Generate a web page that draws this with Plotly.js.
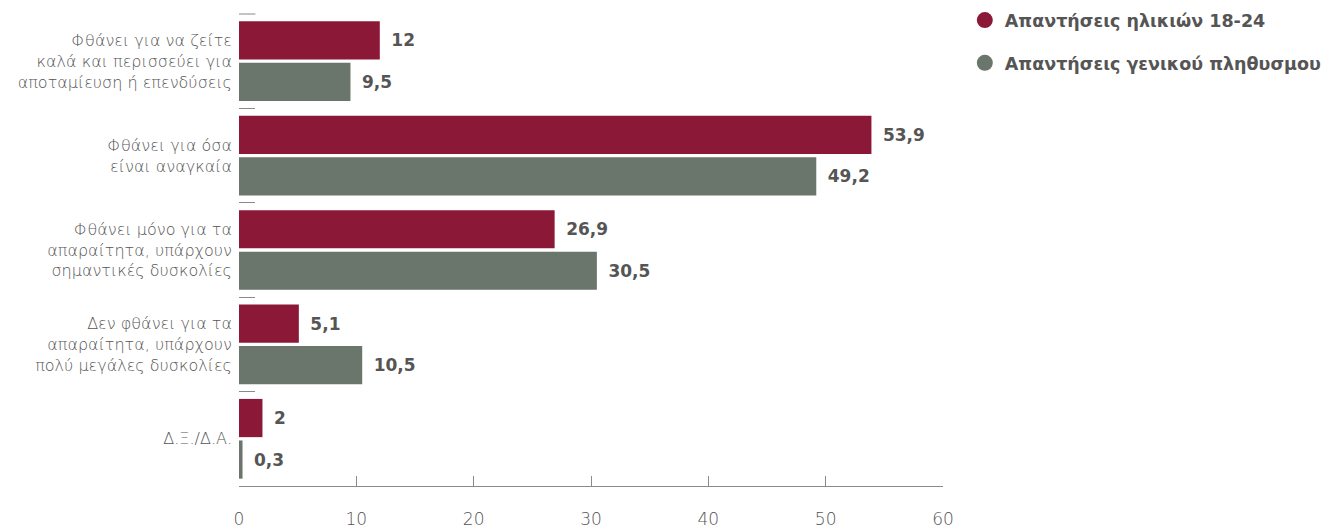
<!DOCTYPE html>
<html><head><meta charset="utf-8">
<script src="https://cdn.plot.ly/plotly-3.0.1.min.js"></script>
<style>html,body{margin:0;padding:0;background:#fff}#chart{width:1331px;height:529px}</style>
</head><body><div id="chart"></div>
<script>
const categories = [
  "Φθάνει για να ζείτε<br>καλά και περισσεύει για<br>αποταμίευση ή επενδύσεις",
  "Φθάνει για όσα<br>είναι αναγκαία",
  "Φθάνει μόνο για τα<br>απαραίτητα, υπάρχουν<br>σημαντικές δυσκολίες",
  "Δεν φθάνει για τα<br>απαραίτητα, υπάρχουν<br>πολύ μεγάλες δυσκολίες",
  "Δ.Ξ./Δ.Α."
];
const seriesNames = ["Απαντήσεις ηλικιών 18-24", "Απαντήσεις γενικού πληθυσμου"];
const youth = [12, 53.9, 26.9, 5.1, 2];
const general = [9.5, 49.2, 30.5, 10.5, 0.3];
const xTicks = [0, 10, 20, 30, 40, 50, 60];

const colors = ["#8c1838", "#6a756b"];
const fmt = v => "\u2002" + String(v).replace(".", ",");
const series = [youth, general];
const boldFont = "'DejaVu Sans', sans-serif";
const lightFont = "'DejaVu Sans', sans-serif";

const traces = [];
series.forEach((vals, i) => {
  traces.push({
    type: "bar", orientation: "h",
    y: categories, x: vals,
    marker: {color: colors[i]},
    text: vals.map(fmt), textposition: "outside",
    textfont: {family: boldFont, size: 17, color: "#555555", weight: 700},
    cliponaxis: false, showlegend: false, hoverinfo: "x"
  });
});
series.forEach((vals, i) => {
  traces.push({
    type: "scatter", mode: "markers", x: [null], y: [null],
    name: seriesNames[i], legendgroup: "g" + i,
    marker: {color: colors[i], size: 20, symbol: "circle"},
    showlegend: true
  });
});

const layout = {
  width: 1331, height: 529,
  margin: {l: 239, r: 388, t: 14, b: 43, autoexpand: false},
  paper_bgcolor: "#ffffff", plot_bgcolor: "#ffffff",
  barmode: "group", bargap: 0.12, bargroupgap: 0.08,
  font: {family: lightFont, color: "#555555"},
  xaxis: {
    range: [0, 60], tickvals: xTicks, ticktext: xTicks.map(String),
    showgrid: false, zeroline: false,
    showline: true, linecolor: "#8a8a8a", linewidth: 1,
    ticks: "inside", ticklen: 10, tickcolor: "#8a8a8a",
    tickfont: {size: 17, color: "#555555", family: lightFont, weight: 200},
    ticklabelstandoff: 18, automargin: false, fixedrange: true
  },
  yaxis: {
    autorange: "reversed", type: "category",
    showgrid: false, zeroline: false, showline: false,
    ticks: "inside", tickson: "boundaries", ticklen: 16, tickcolor: "#8a8a8a",
    tickfont: {size: 16, color: "#555555", family: lightFont, weight: 200},
    ticklabelstandoff: 6, automargin: false, fixedrange: true
  },
  shapes: [{
    type: "line", xref: "x", yref: "paper", x0: 0, x1: 1.4, y0: 1, y1: 1,
    line: {color: "#8a8a8a", width: 1}
  }],
  legend: {
    x: 1.031, xanchor: "left", y: 1.025, yanchor: "top",
    font: {size: 17.5, color: "#555555", family: boldFont, weight: 700},
    tracegroupgap: 17, itemsizing: "trace", bgcolor: "rgba(0,0,0,0)"
  },
  showlegend: true
};

Plotly.newPlot("chart", traces, layout, {displayModeBar: false, staticPlot: true});
</script>
</body></html>
